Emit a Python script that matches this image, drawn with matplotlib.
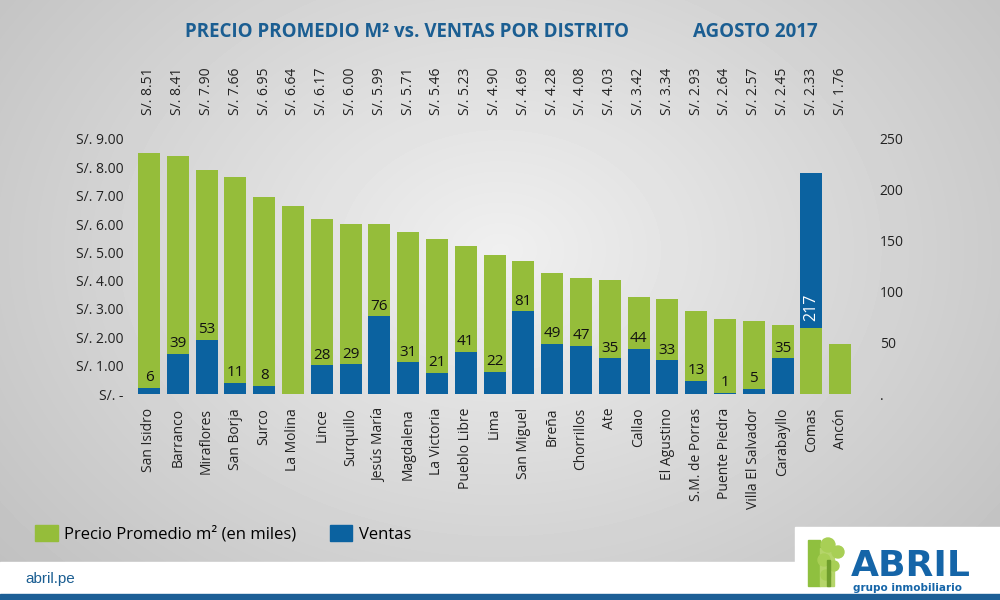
import numpy as np
import matplotlib
matplotlib.use("Agg")
import matplotlib.pyplot as plt
from matplotlib.patches import Rectangle, Patch

plt.rcParams['font.family'] = ['Open Sans', 'DejaVu Sans']

# data
distritos = ["San Isidro", "Barranco", "Miraflores", "San Borja", "Surco", "La Molina",
             "Lince", "Surquillo", "Jesús María", "Magdalena", "La Victoria", "Pueblo Libre",
             "Lima", "San Miguel", "Breña", "Chorrillos", "Ate", "Callao", "El Agustino",
             "S.M. de Porras", "Puente Piedra", "Villa El Salvador", "Carabayllo", "Comas", "Ancón"]
precio = [8.51, 8.41, 7.90, 7.66, 6.95, 6.64, 6.17, 6.00, 5.99, 5.71, 5.46, 5.23, 4.90,
          4.69, 4.28, 4.08, 4.03, 3.42, 3.34, 2.93, 2.64, 2.57, 2.45, 2.33, 1.76]
ventas = [6, 39, 53, 11, 8, None, 28, 29, 76, 31, 21, 41, 22, 81, 49, 47, 35, 44, 33,
          13, 1, 5, 35, 217, None]
precio_ticks = [0, 1, 2, 3, 4, 5, 6, 7, 8, 9]
ventas_ticks = [0, 50, 100, 150, 200, 250]

GREEN = '#95bd3a'
BLUE = '#0b62a0'
TITLE_BLUE = '#1b5e92'
W, H = 1000, 600
PMAX, VMAX = 9, 250

fig = plt.figure(figsize=(10, 6), dpi=100)

# background in pixel coordinates
bg = fig.add_axes([0, 0, 1, 1], zorder=-10)
bg.set_xlim(0, W)
bg.set_ylim(H, 0)
bg.axis('off')
yy, xx = np.mgrid[0:H, 0:W]
d = np.sqrt(((xx - 500) / 600.0) ** 2 + ((yy - 250) / 450.0) ** 2)
grad = np.clip(0.94 - 0.17 * d, 0, 1)
bg.imshow(grad, cmap='gray', vmin=0, vmax=1, extent=(0, W, H, 0), aspect='auto')

# footer
bg.add_patch(Rectangle((0, 562), W, 33, color='white'))
bg.add_patch(Rectangle((795, 527), W - 795, 40, color='white'))
bg.add_patch(Rectangle((0, 594), W, 6, color='#1d5f96'))
bg.text(25, 579, "abril.pe", color=TITLE_BLUE, fontsize=11, va='center', ha='left',
        family=['Liberation Sans', 'DejaVu Sans'])

# logo (rough)
bg.add_patch(Rectangle((808, 540), 12, 46, color='#8fc03f'))
bg.add_patch(Rectangle((820, 548), 14, 38, color='#b5d56a'))
for cx, cy, r in [(828, 545, 7), (838, 552, 6), (824, 560, 6), (834, 566, 5), (826, 575, 5)]:
    bg.add_patch(plt.Circle((cx, cy), r, color='#a8cf55'))
bg.add_patch(Rectangle((827, 560), 3, 26, color='#6f9e2c'))
bg.text(851, 576, "ABRIL", color='#1565a8', fontsize=26, fontweight='heavy',
        family=['DejaVu Sans'], va='baseline', ha='left')
bg.text(853, 591, "grupo inmobiliario", color='#1565a8', fontsize=7.5, fontweight='bold',
        family=['DejaVu Sans'], va='baseline', ha='left')

# title
bg.text(407, 32, "PRECIO PROMEDIO M² vs. VENTAS POR DISTRITO", color=TITLE_BLUE,
        fontsize=13.5, fontweight='bold', ha='center', va='center')
bg.text(755, 32, "AGOSTO 2017", color=TITLE_BLUE, fontsize=13.5, fontweight='bold',
        ha='center', va='center')

# main chart
ax = fig.add_axes([0.1346, 206 / H, 0.72, 255 / H])
ax.patch.set_visible(False)
x = np.arange(len(distritos))
ax.bar(x, precio, width=0.76, color=GREEN, zorder=1)
ax.set_xlim(-0.5, len(distritos) - 0.5)
ax.set_ylim(0, PMAX)
ax.set_yticks(precio_ticks)
ax.set_yticklabels(['S/. -'] + ['S/. %.2f' % v for v in precio_ticks[1:]])
ax.set_xticks(x)
ax.set_xticklabels(distritos, rotation=90, va='top', ha='center')
ax.tick_params(axis='both', length=0, labelsize=10, colors='#222222')
ax.tick_params(axis='y', pad=8)
ax.tick_params(axis='x', pad=10)
for s in ax.spines.values():
    s.set_visible(False)

# price labels above the chart
for i, p in enumerate(precio):
    ax.text(i, 1.094, 'S/. %.2f' % p, transform=ax.get_xaxis_transform(), rotation=90,
            ha='center', va='bottom', fontsize=10, color='#222222')

ax2 = ax.twinx()
ax2.patch.set_visible(False)
v_vals = [np.nan if v is None else v for v in ventas]
ax2.bar(x, v_vals, width=0.76, color=BLUE, zorder=2)
ax2.set_ylim(0, VMAX)
ax2.set_yticks(ventas_ticks)
ax2.set_yticklabels(['.'] + [str(v) for v in ventas_ticks[1:]])
ax2.tick_params(axis='y', length=0, labelsize=10, colors='#222222', pad=18)
for s in ax2.spines.values():
    s.set_visible(False)

for i, v in enumerate(ventas):
    if v is None:
        continue
    if v / VMAX > precio[i] / PMAX:
        # sales bar taller than the price bar: the green stays in front
        ax2.bar(i, precio[i] * VMAX / PMAX, width=0.76, color=GREEN, zorder=3)
        ax2.annotate(str(v), (i, precio[i]), xycoords=ax.transData, xytext=(0, 5),
                     textcoords='offset points', rotation=90, ha='center', va='bottom',
                     color='white', fontsize=11.5, zorder=5)
    else:
        ax2.annotate(str(v), (i, v), xytext=(0, 2), textcoords='offset points',
                     ha='center', va='bottom', color='#111111', fontsize=11)

# legend
handles = [Patch(color=GREEN, label='Precio Promedio m² (en miles)'),
           Patch(color=BLUE, label='Ventas')]
fig.legend(handles=handles, loc='center left', bbox_to_anchor=(35 / W, 1 - 534 / H),
           ncol=2, frameon=False, fontsize=12, handlelength=1.35, handleheight=1.1,
           handletextpad=0.4, columnspacing=2.0, borderpad=0, borderaxespad=0)

fig.savefig('out.png', dpi=100)
